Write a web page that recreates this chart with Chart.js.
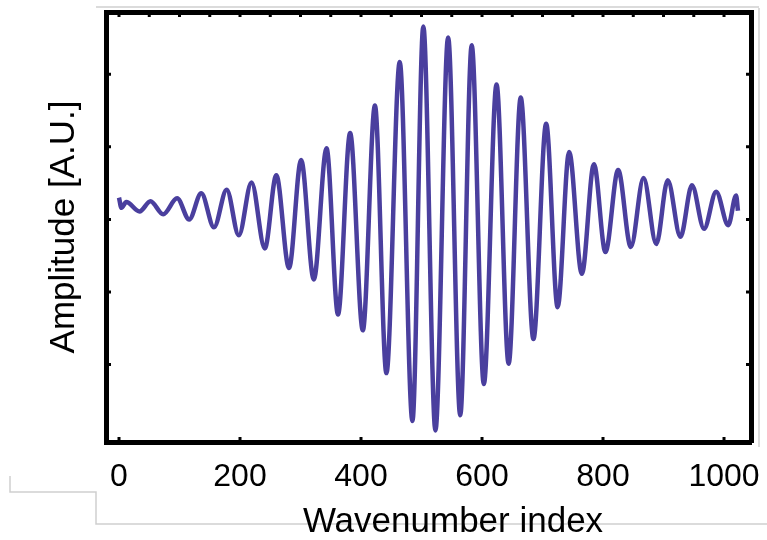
<!DOCTYPE html>
<html>
<head>
<meta charset="utf-8">
<title>Amplitude vs wavenumber index</title>
<script src="https://cdn.jsdelivr.net/npm/chart.js@4.4.0/dist/chart.umd.min.js"></script>
<style>
  html, body { margin: 0; padding: 0; background: #fff; }
  canvas { display: block; }
</style>
</head>
<body>
<canvas id="chartCanvas" width="767" height="540"></canvas>
<script>
// turning points of the trace
const waveIndex = [
  0, 4, 12, 34, 52, 73, 96, 116, 136, 157, 178, 198, 219, 241, 260, 281, 301, 322,
  343, 362, 382, 403, 423, 442, 464, 485, 503, 523, 544, 564, 583, 603, 624, 644,
  664, 685, 706, 725, 744, 765, 785, 804, 825, 846, 867, 888, 907, 928, 947, 967,
  987, 1007, 1020, 1023
];
const amplitude = [
  0.30, 0.16, 0.24, 0.11, 0.25, 0.07, 0.29, 0.00, 0.36, -0.11, 0.41, -0.22, 0.51, -0.40, 0.61, -0.67, 0.82, -0.83,
  0.98, -1.31, 1.19, -1.53, 1.57, -2.12, 2.17, -2.78, 2.66, -2.91, 2.51, -2.70, 2.40, -2.27, 1.86, -1.99,
  1.68, -1.65, 1.32, -1.21, 0.93, -0.75, 0.76, -0.45, 0.68, -0.38, 0.57, -0.34, 0.54, -0.24, 0.47, -0.13,
  0.38, -0.08, 0.33, 0.12
];

const xTickValues = [0, 200, 400, 600, 800, 1000];
const topTickValues = [0, 50, 100, 150, 200, 250, 300, 350, 400, 450, 500, 550, 600, 650, 700, 750, 800, 850, 900, 950, 1000];
const yTickValues = [-2, -1, 0, 1, 2];

const FONT = '"Liberation Sans", Arial, sans-serif';
const X_MIN = -21.5, X_MAX = 1044.6;
const Y_MIN = -3.07, Y_MAX = 2.86;

// small inward tick marks on all four sides of the box
const boxTicks = {
  id: 'boxTicks',
  afterDraw(chart) {
    const { ctx, chartArea: a, scales } = chart;
    ctx.save();
    ctx.strokeStyle = '#000';
    ctx.lineWidth = 3;
    ctx.beginPath();
    xTickValues.forEach(v => {
      const px = scales.x.getPixelForValue(v);
      ctx.moveTo(px, a.bottom);
      ctx.lineTo(px, a.bottom - 5);
    });
    topTickValues.forEach(v => {
      const px = scales.x.getPixelForValue(v);
      ctx.moveTo(px, a.top);
      ctx.lineTo(px, a.top + 5);
    });
    yTickValues.forEach(v => {
      const py = scales.y.getPixelForValue(v);
      ctx.moveTo(a.left, py);
      ctx.lineTo(a.left + 5, py);
      ctx.moveTo(a.right, py);
      ctx.lineTo(a.right - 5, py);
    });
    ctx.stroke();

    // x axis title sits a bit right of the box centre
    ctx.fillStyle = '#000';
    ctx.font = '35px ' + FONT;
    ctx.textAlign = 'center';
    ctx.textBaseline = 'middle';
    ctx.fillText('Wavenumber index', 453, 522);
    ctx.restore();
  }
};

// faint page edges left over in the scanned figure
const paperEdges = {
  id: 'paperEdges',
  beforeDraw(chart) {
    const ctx = chart.ctx;
    ctx.save();
    ctx.strokeStyle = '#cfcfcf';
    ctx.lineWidth = 1.5;
    ctx.beginPath();
    ctx.moveTo(10, 476);
    ctx.lineTo(10, 492);
    ctx.lineTo(96, 492);
    ctx.lineTo(96, 524);
    ctx.lineTo(767, 524);
    ctx.moveTo(759, 8);
    ctx.lineTo(759, 447);
    ctx.moveTo(96, 7);
    ctx.lineTo(759, 7);
    ctx.stroke();
    ctx.restore();
  }
};

const ctx = document.getElementById('chartCanvas').getContext('2d');

new Chart(ctx, {
  type: 'line',
  data: {
    datasets: [
      {
        label: 'Amplitude',
        data: waveIndex.map((x, i) => ({ x: x, y: amplitude[i] })),
        borderColor: '#4a3f9e',
        borderWidth: 4.5,
        pointRadius: 0,
        fill: false,
        cubicInterpolationMode: 'monotone',
      },
    ],
  },
  options: {
    responsive: false,
    animation: false,
    layout: { padding: 0 },
    plugins: {
      legend: { display: false },
      tooltip: { enabled: false },
    },
    scales: {
      x: {
        type: 'linear',
        position: 'bottom',
        min: X_MIN,
        max: X_MAX,
        afterBuildTicks: s => { s.ticks = xTickValues.map(v => ({ value: v })); },
        afterFit: s => { s.height = 98; s.paddingLeft = 0; s.paddingRight = 0; },
        ticks: {
          color: '#000',
          font: { family: FONT, size: 32 },
          padding: 16,
          maxRotation: 0,
          callback: v => String(v),
        },
        grid: { drawOnChartArea: false, drawTicks: false },
        border: { display: true, color: '#000', width: 5 },
      },
      xTop: {
        type: 'linear',
        position: 'top',
        min: X_MIN,
        max: X_MAX,
        afterFit: s => { s.height = 12; s.paddingLeft = 0; s.paddingRight = 0; },
        ticks: { display: false },
        grid: { drawOnChartArea: false, drawTicks: false },
        border: { display: true, color: '#000', width: 5 },
      },
      y: {
        type: 'linear',
        position: 'left',
        min: Y_MIN,
        max: Y_MAX,
        afterBuildTicks: s => { s.ticks = yTickValues.map(v => ({ value: v })); },
        afterFit: s => { s.width = 106; s.paddingTop = 0; s.paddingBottom = 0; },
        ticks: { display: false },
        grid: { drawOnChartArea: false, drawTicks: false },
        border: { display: true, color: '#000', width: 5 },
        title: {
          display: true,
          text: 'Amplitude [A.U.]',
          color: '#000',
          font: { family: FONT, size: 35, lineHeight: 1 },
          padding: { top: 47, bottom: 0 },
        },
      },
      yRight: {
        type: 'linear',
        position: 'right',
        min: Y_MIN,
        max: Y_MAX,
        afterFit: s => { s.width = 16; s.paddingTop = 0; s.paddingBottom = 0; },
        ticks: { display: false },
        grid: { drawOnChartArea: false, drawTicks: false },
        border: { display: true, color: '#000', width: 5 },
      },
    },
  },
  plugins: [paperEdges, boxTicks],
});
</script>
</body>
</html>
